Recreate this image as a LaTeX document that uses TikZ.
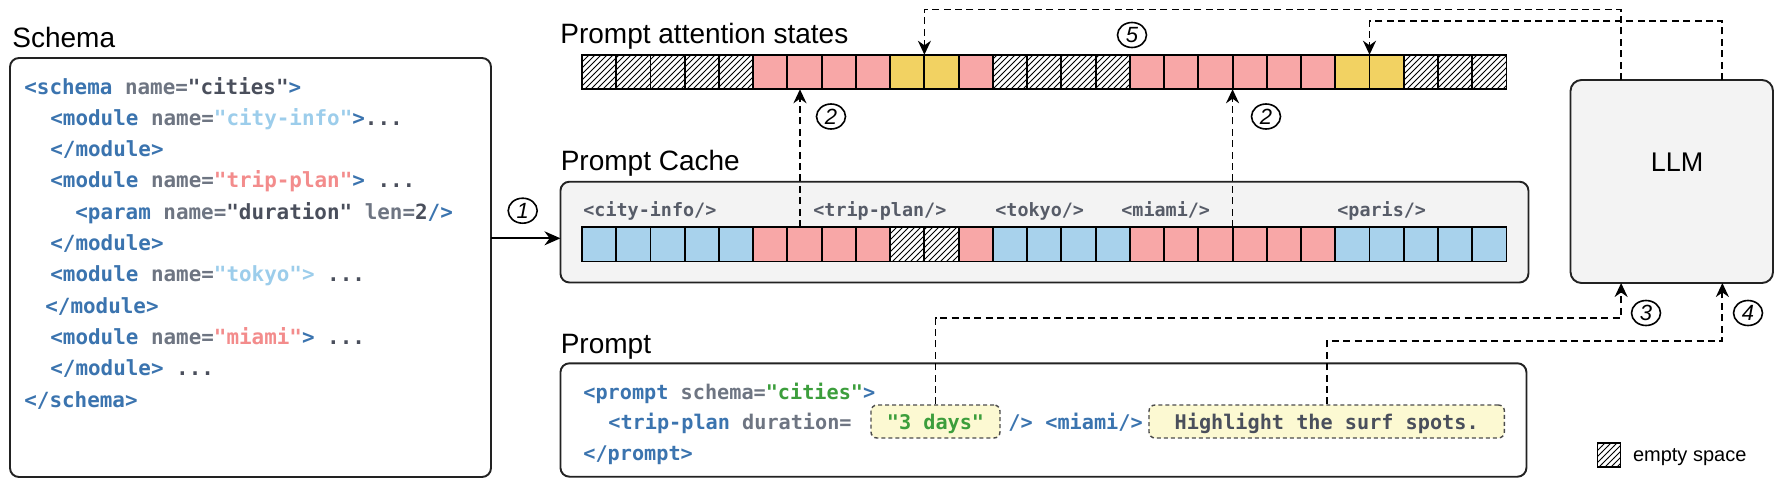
\documentclass[tikz,border=0pt]{standalone}
\usepackage{fontspec}
\setmainfont{Liberation Sans}
\setmonofont{DejaVu Sans Mono}
\usetikzlibrary{patterns,arrows.meta,calc,shapes.geometric}

\definecolor{tagblue}{HTML}{3B74AF}
\definecolor{attrgray}{HTML}{6E7582}
\definecolor{valdark}{HTML}{4A4F5C}
\definecolor{vallight}{HTML}{9CCDEB}
\definecolor{valsalmon}{HTML}{F38C8C}
\definecolor{valgreen}{HTML}{3C9E3C}
\definecolor{cellblue}{HTML}{A8D2EC}
\definecolor{cellpink}{HTML}{F8A7A7}
\definecolor{cellyellow}{HTML}{F2D262}
\definecolor{boxgray}{HTML}{F3F3F3}
\definecolor{noteyellow}{HTML}{FCF9D2}
\definecolor{cachelabel}{HTML}{575C68}
\definecolor{linegray}{HTML}{222222}

\newcommand{\xtag}[1]{\textcolor{tagblue}{#1}}
\newcommand{\xatt}[1]{\textcolor{attrgray}{#1}}
\newcommand{\xval}[1]{\textcolor{valdark}{#1}}
\newcommand{\xlb}[1]{\textcolor{vallight}{#1}}
\newcommand{\xsal}[1]{\textcolor{valsalmon}{#1}}
\newcommand{\xgrn}[1]{\textcolor{valgreen}{#1}}

\begin{document}
\begin{tikzpicture}[x=0.5pt,y=-0.5pt,
  cell/.style={draw=black, line width=0.95pt, minimum width=17.12pt, minimum height=17.25pt, inner sep=0pt, outer sep=0pt},
  cellB/.style={cell, fill=cellblue},
  cellP/.style={cell, fill=cellpink},
  cellY/.style={cell, fill=cellyellow},
  cellH/.style={cell, preaction={fill=white}, pattern=north east lines},
  panel/.style={draw=linegray, line width=0.95pt, rounded corners=4.5pt, inner sep=0pt, outer sep=0pt},
  title/.style={font=\fontsize{14pt}{16pt}\selectfont, anchor=base west, inner sep=0pt},
  scode/.style={font=\ttfamily\bfseries\fontsize{10.45pt}{12pt}\selectfont, anchor=base west, inner sep=0pt},
  pcode/.style={font=\ttfamily\bfseries\fontsize{10.1pt}{12pt}\selectfont, anchor=base west, inner sep=0pt},
  ccode/.style={font=\ttfamily\bfseries\fontsize{9.2pt}{11pt}\selectfont, anchor=base west, inner sep=0pt, text=cachelabel},
  notebox/.style={draw=black!70, dash pattern=on 2pt off 1.5pt, line width=0.7pt, rounded corners=3pt,
     fill=noteyellow, anchor=base, text height=8pt, text depth=0pt, inner ysep=4.25pt, inner xsep=0pt,
     font=\ttfamily\bfseries\fontsize{10.1pt}{12pt}\selectfont},
  numcirc/.style={ellipse, draw=black, line width=0.8pt, minimum width=14.5pt, minimum height=12.5pt,
     inner sep=0pt, fill=white, font=\itshape\fontsize{11pt}{12pt}\selectfont},
  dasharrow/.style={draw=black, line width=0.9pt, dash pattern=on 3.5pt off 2.2pt,
     -{Stealth[length=7pt,width=6.5pt]}},
  solidarrow/.style={draw=black, line width=0.9pt, -{Stealth[length=8pt,width=7pt]}}
]
\useasboundingbox (0,0) rectangle (1778,482);

% ---------- Schema ----------
\node[title] (tschema) at (12,47) {Schema};
\node[panel, fill=white, minimum width=240.5pt, minimum height=209.5pt] (schema) at (250.5,267.5) {};
\node[scode] (s1) at (24,94) {\xtag{<schema}\xatt{~name=}\xval{"cities"}\xtag{>}};
\node[scode] (s2) at (50,125.3) {\xtag{<module}\xatt{~name=}\xlb{"city-info"}\xtag{>}\xval{...}};
\node[scode] (s3) at (50,156.6) {\xtag{</module>}};
\node[scode] (s4) at (50,187.9) {\xtag{<module}\xatt{~name=}\xsal{"trip-plan"}\xtag{>}\xval{~...}};
\node[scode] (s5) at (75,219.2) {\xtag{<param}\xatt{~name=}\xval{"duration"}\xatt{~len=}\xval{2}\xtag{/>}};
\node[scode] (s6) at (50,250.5) {\xtag{</module>}};
\node[scode] (s7) at (50,281.8) {\xtag{<module}\xatt{~name=}\xlb{"tokyo">}\xval{~...}};
\node[scode] (s8) at (45,313.1) {\xtag{</module>}};
\node[scode] (s9) at (50,344.4) {\xtag{<module}\xatt{~name=}\xsal{"miami"}\xtag{>}\xval{~...}};
\node[scode] (s10) at (50,375.7) {\xtag{</module>}\xval{~...}};
\node[scode] (s11) at (24,407) {\xtag{</schema>}};

% ---------- Prompt attention states ----------
\node[title] (tattn) at (560,43) {Prompt attention states};
\foreach \t [count=\i from 0] in {H,H,H,H,H,P,P,P,P,Y,Y,P,H,H,H,H,P,P,P,P,P,P,Y,Y,H,H,H}
  \node[cell\t] (a\i) at (599.12+34.24*\i,72) {};

% ---------- Prompt Cache ----------
\node[title] (tcache) at (560.4,170) {Prompt Cache};
\node[panel, fill=boxgray, minimum width=484pt, minimum height=50.4pt] (cache) at (1044.45,232.1) {};
\node[ccode] (l1) at (583,216) {<city-info/>};
\node[ccode] (l2) at (813,216) {<trip-plan/>};
\node[ccode] (l3) at (995,216) {<tokyo/>};
\node[ccode] (l4) at (1121,216) {<miami/>};
\node[ccode] (l5) at (1337,216) {<paris/>};
\foreach \t [count=\i from 0] in {B,B,B,B,B,P,P,P,P,H,H,P,B,B,B,B,P,P,P,P,P,P,B,B,B,B,B}
  \node[cell\t] (c\i) at (599.12+34.24*\i,244.2) {};

% ---------- Prompt ----------
\node[title] (tprompt) at (560.4,353) {Prompt};
\node[panel, fill=white, minimum width=483pt, minimum height=56.7pt] (prompt) at (1043.45,420) {};
\node[pcode] (p1) at (583,399) {\xtag{<prompt}\xatt{~schema=}\xgrn{"cities"}\xtag{>}};
\node[pcode] (p2) at (608,429.5) {\xtag{<trip-plan}\xatt{~duration=}};
\node[notebox, minimum width=64.5pt] (d3) at (935.5,429.5) {\xgrn{"3 days"}};
\node[pcode] (p2b) at (1008,429.5) {\xtag{/>}};
\node[pcode] (p2c) at (1045,429.5) {\xtag{<miami/>}};
\node[notebox, minimum width=177.7pt] (hl) at (1326.7,429.5) {\textcolor{valdark}{Highlight the surf spots.}};
\node[pcode] (p3) at (583,460) {\xtag{</prompt>}};

% ---------- LLM ----------
\node[panel, rounded corners=5.5pt, fill=boxgray, minimum width=101.25pt, minimum height=101.5pt] (llm) at (1671.75,181.5) {};
\node[font=\fontsize{13.5pt}{15pt}\selectfont, anchor=base, inner sep=0pt] (llmlabel) at (1677,171) {LLM};
\coordinate (lt1) at ($(llm.north west)!0.25!(llm.north east)$);
\coordinate (lt2) at ($(llm.north west)!0.75!(llm.north east)$);
\coordinate (lb1) at ($(llm.south west)!0.25!(llm.south east)$);
\coordinate (lb2) at ($(llm.south west)!0.75!(llm.south east)$);
\coordinate (topA) at (0,9.5);
\coordinate (topB) at (0,21);
\coordinate (midA) at (0,317.7);
\coordinate (midB) at (0,341);

% ---------- Connectors ----------
\draw[solidarrow] ([yshift=14.6pt]schema.east) -- ([yshift=14.6pt]schema.east -| cache.west);
\node[numcirc] (n1) at (522.7,210.7) {1};

\draw[dasharrow] ([xshift=-2.3pt]c6.north) -- ([xshift=-2.3pt]a6.south);
\node[numcirc] (n2a) at (831,116.5) {2};
\draw[dasharrow] (c18.north east) -- (a18.south east);
\node[numcirc] (n2b) at (1266,116.5) {2};

\draw[dasharrow] (lt1) -- (lt1 |- topA) -| (a9.north east);
\draw[dasharrow] (lt2) -- (lt2 |- topB) -| (a22.north east);
\node[numcirc] (n5) at (1132,35) {5};

\draw[dasharrow] (d3.north) -- (d3.north |- midA) -| (lb1);
\node[numcirc] (n3) at (1646,313) {3};
\draw[dasharrow] (hl.north) -- (hl.north |- midB) -| (lb2);
\node[numcirc] (n4) at (1748,313) {4};

% ---------- Legend ----------
\node[draw=black, line width=0.9pt, minimum width=11.5pt, minimum height=12pt, inner sep=0pt,
      preaction={fill=white}, pattern=north east lines] (leg) at (1609,454.7) {};
\node[font=\fontsize{10pt}{12pt}\selectfont, anchor=base west, inner sep=0pt] (legt) at (1632.6,461) {empty space};
\end{tikzpicture}
\end{document}
